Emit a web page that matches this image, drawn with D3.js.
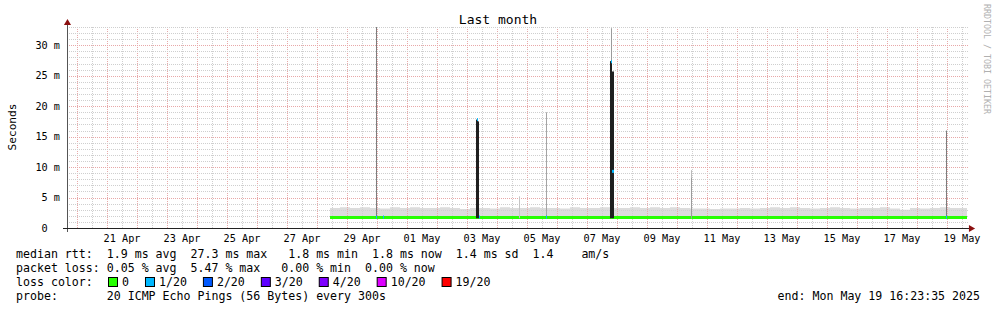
<!DOCTYPE html>
<html>
<head>
<meta charset="utf-8">
<script src="https://cdn.jsdelivr.net/npm/d3@7"></script>
<style>
  body { margin: 0; background: #fff; }
  svg text { font-family: "DejaVu Sans Mono", monospace; white-space: pre; }
</style>
</head>
<body>
<div id="chart"></div>
<script>
// time span of the graph (UTC, so the picture does not depend on the machine's zone)
var graphEnd = '2025-05-19 16:23:35'
  , graphDays = 30

// regular 8 hour buckets from the first sample on
var dataStart = '2025-04-28 10:48:00'
  , stepHours = 8

var smokeTop = [
  3.3, 3.4, 3.3, 3.4, 3.3, 3.2, 3.4, 3.3, 3.4, 3.3, 3.3, 3.4, 3.3, 3.1, 3.3, 3.3,
  3.2, 3.4, 3.3, 3.3, 3.4, 3.3, 3.3, 3.2, 3.4, 3.3, 3.3, 3.4, 3.3, 3.3, 3.4, 3.3,
  3.4, 3.3, 3.4, 3.3, 3.2, 3.2, 3.1, 3.2, 3.2, 3.3, 3.2, 3.3, 3.4, 3.3, 3.4, 3.3,
  3.2, 3.3, 3.4, 3.3, 3.2, 3.3, 3.3, 3.4, 3.2, 3.0, 3.3, 3.2, 3.3, 3.4, 3.3, 3.3
]
var medianRtt = [
  1.7, 1.7, 1.7, 1.7, 1.7, 1.7, 1.7, 1.7, 1.7, 1.7, 1.7, 1.7, 1.7, 1.7, 1.7, 1.7,
  1.7, 1.7, 1.7, 1.7, 1.7, 1.7, 1.7, 1.7, 1.7, 1.7, 1.7, 1.7, 1.7, 1.7, 1.7, 1.7,
  1.7, 1.7, 1.7, 1.7, 1.7, 1.7, 1.7, 1.7, 1.7, 1.7, 1.7, 1.7, 1.7, 1.7, 1.7, 1.7,
  1.7, 1.7, 1.7, 1.7, 1.7, 1.7, 1.7, 1.7, 1.7, 1.7, 1.7, 1.7, 1.7, 1.7, 1.7, 1.7
]
var smokeFloor = 1.6

// single 48 minute slots that stand out
var spikeTimes = [
  '2025-04-29 23:35', '2025-04-30 05:11',
  '2025-05-03 07:35', '2025-05-03 08:23', '2025-05-03 09:11', '2025-05-03 10:00',
  '2025-05-04 18:00', '2025-05-05 15:35',
  '2025-05-07 18:47', '2025-05-07 19:35', '2025-05-07 20:23', '2025-05-07 21:11',
  '2025-05-10 11:35', '2025-05-18 23:35'
]
var spikeMax        = [33.5, null, 17.8, 17.8, 17.5, null, 5.2, 19.0, 27.4, 32.8, 25.7, 25.7, 9.5, 16.0]
var spikeMaxPings   = [8, null, 17, 17, 17, null, 1, 4, 17, 5, 17, 17, 2, 8]
var spikeDense      = [null, null, null, null, null, null, null, null, null, 27.4, null, null, 8.2, null]
var spikeDensePings = [null, null, null, null, null, null, null, null, null, 17, null, null, 5, null]
var spikeMedian     = [1.8, 1.8, null, 17.8, null, 1.8, null, 1.8, null, 27.3, 9.3, 9.3, null, 1.8]
var spikeLoss       = [1, 1, null, 1, null, 1, null, 1, null, 1, 1, 1, null, 1]

var yTicks = [0, 5, 10, 15, 20, 25, 30]
  , yMax = 33

var lossLevels = [0, 1, 2, 3, 4, 10, 19]
var lossLabels = ['0', '1/20', '2/20', '3/20', '4/20', '10/20', '19/20']
var lossColors = ['#26ff00', '#00b8ff', '#0059ff', '#5e00ff', '#7e00ff', '#dd00ff', '#ff0000']

var legendRtt = 'median rtt:  1.9 ms avg  27.3 ms max   1.8 ms min  1.8 ms now  1.4 ms sd  1.4    am/s'
  , legendLoss = 'packet loss: 0.05 % avg  5.47 % max   0.00 % min  0.00 % now'
  , legendProbe = 'probe:       20 ICMP Echo Pings (56 Bytes) every 300s'
  , legendEnd = 'end: Mon May 19 16:23:35 2025'

var chartWidth = 997
  , chartHeight = 310
  , plotLeft = 67
  , plotRight = 967
  , plotTop = 27
  , plotBottom = 228

var parse = d3.utcParse('%Y-%m-%d %H:%M:%S')
  , parseShort = d3.utcParse('%Y-%m-%d %H:%M')
  , end = parse(graphEnd)
  , start = d3.utcDay.offset(end, -graphDays)
  , first = parse(dataStart)

var x = d3.scaleUtc().domain([start, end]).range([plotLeft, plotRight])
  , y = d3.scaleLinear().domain([0, yMax]).range([plotBottom, plotTop])
  , lossColor = d3.scaleThreshold().domain(lossLevels.slice(1)).range(lossColors)
  , shade = d3.scaleLinear().domain([1, 20]).range(['#c4c4c4', '#000000'])

var svg = d3.select('#chart').append('svg')
  .attr('width', chartWidth)
  .attr('height', chartHeight)

svg.append('rect').attr('width', chartWidth).attr('height', chartHeight).attr('fill', '#fff')

// buckets
var buckets = smokeTop.map(function(v, i) {
  return { t: d3.utcHour.offset(first, i * stepHours), top: v, med: medianRtt[i] }
})
buckets.push({ t: end, top: smokeTop[smokeTop.length - 1], med: medianRtt[medianRtt.length - 1] })

svg.append('clipPath').attr('id', 'plot')
  .append('rect')
    .attr('x', plotLeft)
    .attr('y', plotTop)
    .attr('width', plotRight - plotLeft)
    .attr('height', plotBottom - plotTop)

var graph = svg.append('g').attr('clip-path', 'url(#plot)')

// smoke
graph.append('path')
  .datum(buckets)
  .attr('fill', '#dcdcdc')
  .attr('d', d3.area()
    .curve(d3.curveStepAfter)
    .x(function(d) { return x(d.t) })
    .y0(function(d) { return y(smokeFloor) })
    .y1(function(d) { return y(d.top) }))

// grid
var grid = svg.append('g')
  , hours = d3.utcHour.every(12).range(start, end)
  , levels = d3.range(1, yMax + 1)

grid.selectAll('line.v')
  .data(hours)
  .enter().append('line')
    .attr('x1', function(d) { return Math.round(x(d)) + 0.5 })
    .attr('x2', function(d) { return Math.round(x(d)) + 0.5 })
    .attr('y1', plotTop)
    .attr('y2', plotBottom)
    .attr('stroke', function(d) { return d.getUTCHours() === 0 ? '#e8a8a8' : '#cfcfcf' })
    .attr('stroke-dasharray', '1,1')

grid.selectAll('line.h')
  .data(levels)
  .enter().append('line')
    .attr('x1', plotLeft)
    .attr('x2', plotRight + 1)
    .attr('y1', function(d) { return Math.round(y(d)) + 0.5 })
    .attr('y2', function(d) { return Math.round(y(d)) + 0.5 })
    .attr('stroke', function(d) { return d % 5 === 0 ? '#e8a8a8' : '#cfcfcf' })
    .attr('stroke-dasharray', '1,1')

var graph2 = svg.append('g').attr('clip-path', 'url(#plot)')

// median band, coloured by loss (0 for the regular buckets)
graph2.append('path')
  .datum(buckets)
  .attr('fill', 'none')
  .attr('stroke', lossColor(0))
  .attr('stroke-width', 3)
  .attr('d', d3.line()
    .curve(d3.curveStepAfter)
    .x(function(d) { return x(d.t) })
    .y(function(d) { return Math.round(y(d.med)) - 0.5 }))

var spikes = spikeTimes.map(function(s, i) {
  var t = parseShort(s)
  return {
    t0: t, t1: d3.utcMinute.offset(t, 48),
    max: spikeMax[i], maxPings: spikeMaxPings[i],
    dense: spikeDense[i], densePings: spikeDensePings[i],
    med: spikeMedian[i], loss: spikeLoss[i]
  }
})

graph2.selectAll('rect.max')
  .data(spikes.filter(function(d) { return d.max != null }))
  .enter().append('rect')
    .attr('x', function(d) { return x(d.t0) })
    .attr('width', function(d) { return x(d.t1) - x(d.t0) })
    .attr('y', function(d) { return y(d.max) })
    .attr('height', function(d) { return y(smokeFloor) - y(d.max) })
    .attr('fill', function(d) { return shade(d.maxPings) })

graph2.selectAll('rect.dense')
  .data(spikes.filter(function(d) { return d.dense != null }))
  .enter().append('rect')
    .attr('x', function(d) { return x(d.t0) })
    .attr('width', function(d) { return x(d.t1) - x(d.t0) })
    .attr('y', function(d) { return y(d.dense) })
    .attr('height', function(d) { return y(smokeFloor) - y(d.dense) })
    .attr('fill', function(d) { return shade(d.densePings) })

graph2.selectAll('rect.med')
  .data(spikes.filter(function(d) { return d.med != null }))
  .enter().append('rect')
    .attr('x', function(d) { return x(d.t0) })
    .attr('width', function(d) { return Math.max(1, x(d.t1) - x(d.t0)) })
    .attr('y', function(d) { return y(d.med) - 1.5 })
    .attr('height', 3)
    .attr('fill', function(d) { return lossColor(d.loss) })

// axes
svg.append('line')
  .attr('x1', plotLeft + 0.5).attr('x2', plotLeft + 0.5)
  .attr('y1', plotTop - 2).attr('y2', plotBottom + 4)
  .attr('stroke', '#555')
svg.append('line')
  .attr('x1', plotLeft - 4).attr('x2', plotRight + 2)
  .attr('y1', plotBottom + 0.5).attr('y2', plotBottom + 0.5)
  .attr('stroke', '#222')
svg.append('path')
  .attr('d', d3.symbol().type(d3.symbolTriangle).size(22))
  .attr('transform', 'translate(' + (plotLeft + 0.5) + ',' + (plotTop - 4) + ')')
  .attr('fill', '#8b1010')
svg.append('path')
  .attr('d', d3.symbol().type(d3.symbolTriangle).size(22))
  .attr('transform', 'translate(' + (plotRight + 4) + ',' + (plotBottom + 0.5) + ') rotate(90)')
  .attr('fill', '#8b1010')

var yAxis = svg.append('g')
  .attr('transform', 'translate(' + plotLeft + ',0)')
  .call(d3.axisLeft(y)
    .tickValues(yTicks)
    .tickSize(0)
    .tickPadding(7)
    .tickFormat(function(d) { return d === 0 ? '0  ' : d + ' m' }))
yAxis.select('.domain').remove()
yAxis.selectAll('text')
  .attr('font-family', '"DejaVu Sans Mono", monospace')
  .attr('font-size', 10.2)
  .attr('fill', '#000')

var labelDays = d3.utcDay.range(d3.utcDay.ceil(start), end)
  .filter(function(d) { return d.getUTCDate() % 2 === 1 })
  .map(function(d) { return d3.utcHour.offset(d, 12) })
var xAxis = svg.append('g')
  .attr('transform', 'translate(0,' + plotBottom + ')')
  .call(d3.axisBottom(x)
    .tickValues(labelDays)
    .tickSize(0)
    .tickPadding(7)
    .tickFormat(d3.utcFormat('%d %b')))
xAxis.select('.domain').remove()
xAxis.selectAll('text')
  .attr('font-family', '"DejaVu Sans Mono", monospace')
  .attr('font-size', 10.2)
  .attr('fill', '#000')

// texts
svg.append('text')
  .attr('x', 498)
  .attr('y', 24)
  .attr('text-anchor', 'middle')
  .attr('font-size', 13)
  .text('Last month')

svg.append('text')
  .attr('transform', 'translate(16,127) rotate(-90)')
  .attr('text-anchor', 'middle')
  .attr('font-size', 11.2)
  .text('Seconds')

svg.append('text')
  .attr('transform', 'translate(984,4) rotate(90)')
  .attr('font-size', 8.3)
  .attr('fill', '#b0b0b0')
  .text('RRDTOOL / TOBI OETIKER')

var legend = svg.append('g').attr('font-size', 11.6)
legend.append('text').attr('x', 16).attr('y', 258).text(legendRtt)
legend.append('text').attr('x', 16).attr('y', 272).text(legendLoss)
legend.append('text').attr('x', 16).attr('y', 286).text('loss color:')
legend.append('text').attr('x', 16).attr('y', 300).text(legendProbe)
legend.append('text').attr('x', 980).attr('y', 300).attr('text-anchor', 'end').text(legendEnd)

var bx = 108
lossLabels.forEach(function(label, i) {
  legend.append('rect')
    .attr('x', bx + 0.5).attr('y', 277.5)
    .attr('width', 9).attr('height', 9)
    .attr('fill', lossColors[i])
    .attr('stroke', '#000')
  var t = legend.append('text').attr('x', bx + 14).attr('y', 286).text(label)
  bx = bx + 14 + t.node().getComputedTextLength() + 16
})
</script>
</body>
</html>
